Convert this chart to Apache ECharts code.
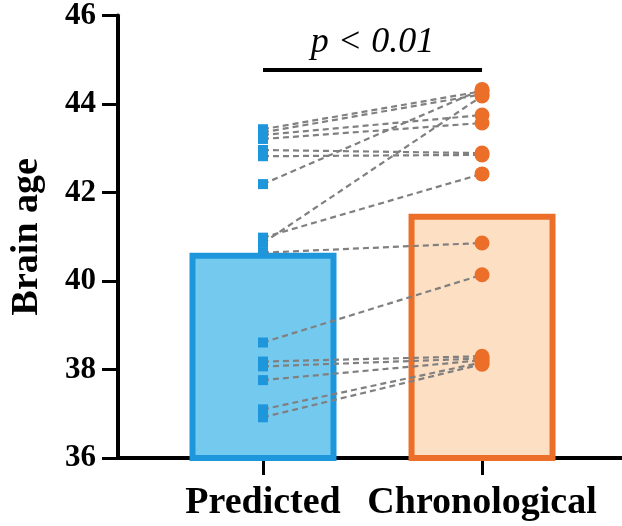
<!DOCTYPE html>
<html>
<head>
<meta charset="utf-8">
<script src="https://cdn.jsdelivr.net/npm/echarts@6/dist/echarts.min.js"></script>
<style>html,body{margin:0;padding:0;background:#fff}#c{width:622px;height:526px}</style>
</head>
<body>
<div id="c"></div>
<script>
var categories = ['Predicted', 'Chronological'];
var barMeans = [40.64, 41.52];
var predicted = [43.43, 43.36, 43.30, 43.21, 42.96, 42.82, 42.19, 40.98, 40.86, 40.64, 38.61, 38.18, 38.07, 37.76, 37.10, 36.92];
var chronological = [44.29, 44.22, 43.75, 43.57, 42.89, 42.85, 44.33, 42.42, 44.18, 40.86, 40.14, 38.30, 38.25, 38.21, 38.16, 38.12];
var yTicks = [36, 38, 40, 42, 44, 46];
var pText = 'p < 0.01';
var bracketY = 44.78;
var pTextY = 45.38;

var font = 'Liberation Serif';
var chart = echarts.init(document.getElementById('c'));

var pairLines = predicted.map(function (p, i) {
  return { coords: [[1, p], [2, chronological[i]]] };
});

chart.setOption({
  animation: false,
  grid: { left: 118, right: 0, top: 14, bottom: 68 },
  xAxis: {
    type: 'value',
    min: 0.338,
    max: 2.639,
    splitLine: { show: false },
    axisLine: { show: true, onZero: false, lineStyle: { color: '#000', width: 4 } },
    axisTick: { show: true, customValues: [1, 2], length: 17, lineStyle: { color: '#000', width: 3 } },
    axisLabel: {
      customValues: [1, 2],
      formatter: function (v) { return categories[Math.round(v) - 1]; },
      fontFamily: font, fontWeight: 'bold', fontSize: 38, color: '#000', margin: 26
    }
  },
  yAxis: {
    type: 'value',
    min: 36, max: 46, interval: 2,
    name: 'Brain age',
    nameLocation: 'middle',
    nameGap: 72,
    nameTextStyle: { fontFamily: font, fontWeight: 'bold', fontSize: 38, color: '#000' },
    splitLine: { show: false },
    axisLine: { show: true, lineStyle: { color: '#000', width: 4 } },
    axisTick: { show: true, length: 16, lineStyle: { color: '#000', width: 3 } },
    axisLabel: { fontFamily: font, fontWeight: 'bold', fontSize: 31, color: '#000', margin: 22 }
  },
  series: [
    {
      type: 'bar',
      barWidth: 147,
      z: 1,
      data: [
        { value: [1, barMeans[0]], itemStyle: { color: '#74C9EF', borderColor: '#1E96DC', borderWidth: 6 } },
        { value: [2, barMeans[1]], itemStyle: { color: '#FDDFC3', borderColor: '#EB6E29', borderWidth: 6 } }
      ]
    },
    {
      type: 'lines',
      coordinateSystem: 'cartesian2d',
      z: 3,
      silent: true,
      lineStyle: { color: '#808080', width: 2.2, type: [6, 4], opacity: 1 },
      data: pairLines
    },
    {
      type: 'scatter',
      symbol: 'rect',
      symbolSize: 10,
      z: 4,
      itemStyle: { color: '#1E96DC', opacity: 1 },
      data: predicted.map(function (v) { return [1, v]; })
    },
    {
      type: 'scatter',
      symbol: 'circle',
      symbolSize: 15,
      z: 4,
      itemStyle: { color: '#EB6E29', opacity: 1 },
      data: chronological.map(function (v) { return [2, v]; })
    },
    {
      type: 'lines',
      coordinateSystem: 'cartesian2d',
      z: 5,
      silent: true,
      lineStyle: { color: '#000', width: 4, opacity: 1 },
      data: [{ coords: [[1, bracketY], [2, bracketY]] }]
    },
    {
      type: 'scatter',
      symbolSize: 0,
      z: 5,
      silent: true,
      itemStyle: { opacity: 1 },
      label: {
        show: true, position: 'inside', formatter: pText, opacity: 1,
        fontFamily: font, fontStyle: 'italic', fontSize: 36, color: '#000'
      },
      data: [[1.5, pTextY]]
    }
  ]
});
</script>
</body>
</html>
